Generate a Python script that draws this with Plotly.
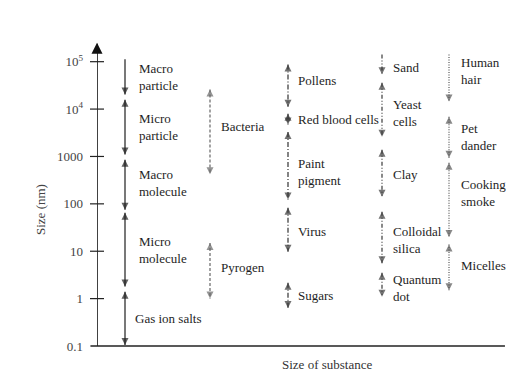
import plotly.graph_objects as go
import math

# ---------------- data ----------------
tick_vals = [0.1, 1, 10, 100, 1000, 1e4, 1e5]
tick_text = ["0.1", "1", "10", "100", "1000", "10<sup>4</sup>", "10<sup>5</sup>"]

# column 1 : size classes (solid)
col1_names = ["Macro<br>particle", "Micro<br>particle", "Macro<br>molecule", "Micro<br>molecule", "Gas ion salts"]
col1_hi = [112000, 15800, 850, 65, 1.4]
col1_lo = [20400, 1100, 75, 1.8, 0.105]
col1_tophead = [False, True, True, True, True]

# column 2 (dashed)
col2_names = ["Bacteria", "Pyrogen"]
col2_hi = [26000, 15]
col2_lo = [420, 1.0]
col2_tophead = [True, True]

# column 3 (dash-dot)
col3_names = ["Pollens", "Red blood cells", "Paint<br>pigment", "Virus", "Sugars"]
col3_hi = [87000, 8000, 3300, 83, 2.15]
col3_lo = [11200, 4700, 123, 9.8, 0.63]
col3_tophead = [True, True, True, True, True]

# column 4 (dash-dot-dot)
col4_names = ["Sand", "Yeast<br>cells", "Clay", "Colloidal<br>silica", "Quantum<br>dot"]
col4_hi = [141000, 36000, 1380, 68, 3.5]
col4_lo = [54000, 2600, 141, 5.6, 1.1]
col4_tophead = [False, True, True, True, True]

# column 5 (dotted)
col5_names = ["Human<br>hair", "Pet<br>dander", "Cooking<br>smoke", "Micelles"]
col5_hi = [141000, 6900, 740, 13.8]
col5_lo = [14500, 935, 20, 1.5]
col5_tophead = [False, True, True, True]

# ---------------- layout / style ----------------
FONT = "Liberation Serif, Times New Roman, DejaVu Serif, serif"
TXT = "#1e1e1e"
columns = [
    dict(names=col1_names, hi=col1_hi, lo=col1_lo, top=col1_tophead, x=28, dash="solid", color="#1e1e1e",
         lx=12, ly=[0, 0, 2, 0, 0], lxs=[12, 12, 12, 12, 8]),
    dict(names=col2_names, hi=col2_hi, lo=col2_lo, top=col2_tophead, x=113, dash="3px,2px", color="#666666",
         lx=9, ly=[5, 3], lxs=None),
    dict(names=col3_names, hi=col3_hi, lo=col3_lo, top=col3_tophead, x=191, dash="5px,2px,1px,2px", color="#333333",
         lx=8, ly=[5, 0, -6, -2, 0], lxs=None),
    dict(names=col4_names, hi=col4_hi, lo=col4_lo, top=col4_tophead, x=285, dash="4px,2px,1px,2px,1px,2px", color="#3a3a3a",
         lx=9, ly=[-3, -3, -1, -3, -3], lxs=None),
    dict(names=col5_names, hi=col5_hi, lo=col5_lo, top=col5_tophead, x=352, dash="1px,1.5px", color="#555555",
         lx=10, ly=[7, 0, 7, 2], lxs=None),
]

fig = go.Figure()
annotations = []

for col in columns:
    for i, name in enumerate(col["names"]):
        hi, lo = col["hi"][i], col["lo"][i]
        fig.add_trace(go.Scatter(
            x=[col["x"], col["x"]], y=[hi, lo], mode="lines+markers",
            line=dict(color=col["color"], width=1.2, dash=col["dash"]),
            marker=dict(symbol=["arrow-up", "arrow-down"],
                        size=[7 if col["top"][i] else 0.01, 7],
                        color=col["color"], line=dict(width=0)),
            hoverinfo="skip", showlegend=False))
        mid = math.sqrt(hi * lo)
        xs = col["lxs"][i] if col["lxs"] else col["lx"]
        annotations.append(dict(
            x=col["x"], y=math.log10(mid), xref="x", yref="y", text=name, showarrow=False,
            xanchor="left", yanchor="middle", align="left", xshift=xs, yshift=col["ly"][i],
            font=dict(family=FONT, size=13, color=TXT)))

# vertical axis line with arrow at top
fig.add_trace(go.Scatter(
    x=[0, 0], y=[0.1, 10 ** 5.38], mode="lines",
    line=dict(color="#111111", width=1.6),
    hoverinfo="skip", showlegend=False, cliponaxis=False))
fig.add_trace(go.Scatter(
    x=[0], y=[10 ** 5.4], mode="markers",
    marker=dict(symbol="arrow-up", size=11, color="#111111", line=dict(width=0)),
    hoverinfo="skip", showlegend=False, cliponaxis=False))
# cross ticks
fig.add_trace(go.Scatter(
    x=[0] * len(tick_vals[1:]), y=tick_vals[1:], mode="markers",
    marker=dict(symbol="line-ew", size=10, color="#222222", line=dict(width=1.2, color="#222222")),
    hoverinfo="skip", showlegend=False, cliponaxis=False))

annotations.append(dict(x=-57 / 410, y=(346 - 209) / 308, xref="paper", yref="paper",
                        text="Size (nm)", showarrow=False, textangle=-90,
                        xanchor="center", yanchor="middle",
                        font=dict(family=FONT, size=13, color="#444444")))
annotations.append(dict(x=(327 - 97) / 410, y=(346 - 364) / 308, xref="paper", yref="paper",
                        text="Size of substance", showarrow=False,
                        xanchor="center", yanchor="middle",
                        font=dict(family=FONT, size=13, color="#333333")))

fig.update_layout(
    width=517, height=372,
    margin=dict(l=97, r=10, t=38, b=26),
    paper_bgcolor="white", plot_bgcolor="white",
    font=dict(family=FONT),
    annotations=annotations,
    shapes=[dict(type="line", xref="paper", yref="paper", x0=-0.016, x1=0.995, y0=0, y1=0,
                 line=dict(color="#222222", width=1.6))],
    xaxis=dict(range=[0, 410], showgrid=False, zeroline=False, showticklabels=False,
               ticks="", showline=False, fixedrange=True),
    yaxis=dict(type="log", range=[-1, 5.5], showgrid=False, zeroline=False, showline=False,
               tickvals=tick_vals, ticktext=tick_text, ticks="", ticklabelstandoff=13,
               tickfont=dict(family=FONT, size=13, color="#444444"), fixedrange=True),
)

fig.write_html("out.html")
